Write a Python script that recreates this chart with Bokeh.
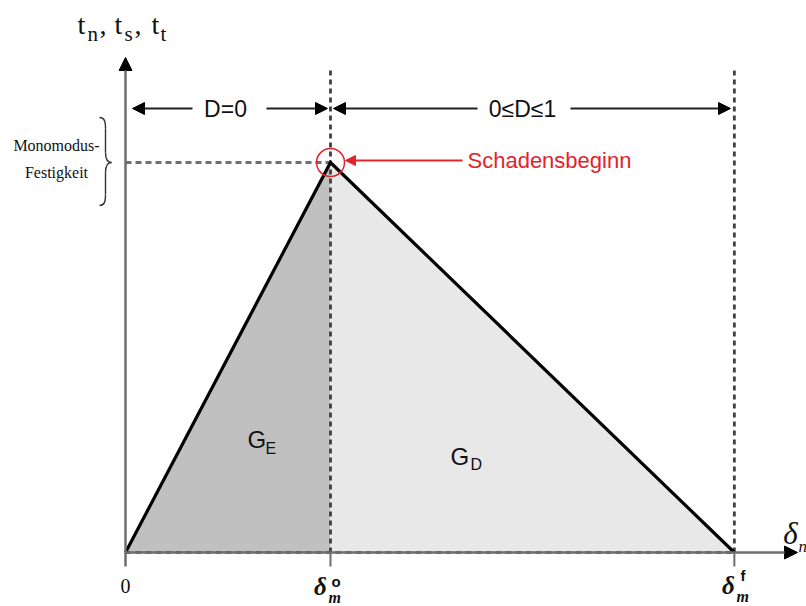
from bokeh.plotting import figure
from bokeh.models import Range1d, Arrow, NormalHead, ColumnDataSource
from bokeh.core.properties import value
from bokeh.embed import file_html
from bokeh.resources import INLINE

# Bilinear traction-separation law (mixed mode)
separation = [0.0, 1.0, 2.97]   # 0, delta_m^o (damage onset), delta_m^f (failure)
traction = [0.0, 1.0, 0.0]      # traction normalised by the mode strength

# Layout helpers: screen pixel -> data coordinate (origin at px 125/552)
OX, OY, SX, SY = 125.0, 552.0, 205.0, 390.0


def X(px):
    return (px - OX) / SX


def Y(py):
    return (OY - py) / SY


W, H = 806, 606
p = figure(width=W, height=H, output_backend="svg", toolbar_location=None,
           x_range=Range1d(X(0), X(W)), y_range=Range1d(Y(H), Y(0)),
           min_border=0, outline_line_color=None, background_fill_color="white")
p.axis.visible = False
p.grid.visible = False

s0, s1, s2 = separation
t0, t1, t2 = traction

# energy areas
p.patch([s0, s1, s1], [t0, t1, 0.0], fill_color="#c0c0c0", line_color=None)
p.patch([s1, s1, s2], [0.0, t1, t2], fill_color="#e8e8e8", line_color=None)

# guide lines
p.line([s0, s1], [t1, t1], line_color="#707070", line_width=2.8, line_dash="6 4")
p.line([s1, s1], [0.0, Y(70)], line_color="#404040", line_width=2.8, line_dash="5 4")
p.line([s2, s2], [0.0, Y(68)], line_color="#404040", line_width=2.8, line_dash="5 4")

# axes with arrow heads
gray = "#6e6e6e"
p.add_layout(Arrow(end=NormalHead(size=13, fill_color="black", line_color="black"),
                   x_start=0, y_start=Y(566), x_end=0, y_end=Y(57),
                   line_color=gray, line_width=2.5))
p.add_layout(Arrow(end=NormalHead(size=13, fill_color="black", line_color="black"),
                   x_start=0, y_start=0, x_end=X(797), y_end=0,
                   line_color=gray, line_width=2.5))
p.segment(x0=[s1, s2], y0=[0.0, 0.0], x1=[s1, s2], y1=[Y(566), Y(566)],
          line_color=gray, line_width=2)

# dashed baseline over the axis
p.line([s0, s2], [0.0, 0.0], line_color="#333333", line_width=2.4, line_dash="6 4")

# traction-separation curve
p.line(separation, traction, line_color="black", line_width=3.2, line_join="miter")

# damage onset marker
red = "#e0242c"
p.scatter([s1], [t1], size=28, marker="circle", fill_color=None,
          line_color=red, line_width=1.5)
p.add_layout(Arrow(end=NormalHead(size=10, fill_color=red, line_color=red),
                   x_start=X(462), y_start=Y(160), x_end=X(345), y_end=Y(160),
                   line_color=red, line_width=1.8))
p.text(x=[X(467)], y=[Y(160)], text=["Schadensbeginn"], text_color=red,
       text_font=value("Liberation Sans"), text_font_size=value("22px"),
       text_align="left", text_baseline="middle")

# damage regions
ay = Y(108)
head = dict(size=12, fill_color="black", line_color="black")
for xs, xe in [(192, 132), (266, 327), (477, 333), (570, 730)]:
    p.add_layout(Arrow(end=NormalHead(**head), x_start=X(xs), y_start=ay,
                       x_end=X(xe), y_end=ay, line_color="#222222", line_width=2))
p.text(x=[X(225), X(522)], y=[ay, ay], text=["D=0", "0\u2264D\u22641"],
       text_color="#111111", text_font=value("Liberation Sans"),
       text_font_size=value("23px"), text_align="center", text_baseline="middle")

# fracture energies
gsrc = ColumnDataSource(dict(
    x=[X(247), X(265), X(450), X(470)],
    y=[Y(439), Y(448), Y(456), Y(464)],
    text=["G", "E", "G", "D"],
    size=["24px", "16px", "24px", "16px"]))
p.text(x="x", y="y", text="text", text_font_size="size", source=gsrc,
       text_color="#111111", text_font=value("Liberation Sans"),
       text_align="left", text_baseline="middle")

# axis title t_n, t_s, t_t
tsrc = ColumnDataSource(dict(
    x=[X(77), X(87), X(99), X(114), X(124), X(134), X(151), X(160)],
    y=[Y(24), Y(33), Y(24), Y(24), Y(33), Y(24), Y(24), Y(33)],
    text=["t", "n", ",", "t", "s", ",", "t", "t"],
    size=["28px", "21px", "28px", "28px", "21px", "28px", "28px", "21px"]))
p.text(x="x", y="y", text="text", text_font_size="size", source=tsrc,
       text_color="#111111", text_font=value("Liberation Serif"),
       text_align="left", text_baseline="middle")

# strength brace and label
bc = "#333333"
p.bezier(x0=[X(99), X(105), X(111), X(105)],
         y0=[Y(117), Y(152), Y(162), Y(194)],
         x1=[X(105), X(111), X(105), X(99)],
         y1=[Y(128), Y(162), Y(172), Y(205)],
         cx0=[X(104), X(105), X(107), X(105)],
         cy0=[Y(117), Y(158), Y(162), Y(201)],
         cx1=[X(105), X(107), X(105), X(104)],
         cy1=[Y(121), Y(162), Y(166), Y(205)],
         line_color=bc, line_width=1.4)
p.segment(x0=[X(105), X(105)], y0=[Y(128), Y(172)], x1=[X(105), X(105)],
          y1=[Y(152), Y(194)], line_color=bc, line_width=1.4)
p.text(x=[X(56), X(56)], y=[Y(145), Y(172)], text=["Monomodus-", "Festigkeit"],
       text_color="#111111", text_font=value("Liberation Serif"),
       text_font_size=value("16px"), text_align="center", text_baseline="middle")

# separation tick labels
p.text(x=[X(125)], y=[Y(585)], text=["0"], text_color="#111111",
       text_font=value("Liberation Serif"), text_font_size=value("20px"),
       text_align="center", text_baseline="middle")
lsrc = ColumnDataSource(dict(
    x=[X(320), X(328), X(728), X(736)],
    y=[Y(586), Y(597), Y(585), Y(596)],
    text=["\u03b4", "m", "\u03b4", "m"],
    size=["25px", "16px", "25px", "16px"],
    align=["center", "left", "center", "left"]))
p.text(x="x", y="y", text="text", text_font_size="size", text_align="align",
       source=lsrc, text_color="#111111", text_font=value("Liberation Serif"),
       text_font_style="bold italic", text_baseline="middle")
p.text(x=[X(331), X(740)], y=[Y(581), Y(575)], text=["o", "f"],
       text_color="#111111", text_font=value("Liberation Sans"),
       text_font_size=value("15px"), text_font_style="bold",
       text_align="left", text_baseline="middle")

# separation axis title delta_n
nsrc = ColumnDataSource(dict(
    x=[X(790), X(798)], y=[Y(533), Y(546)], text=["\u03b4", "n"],
    size=["31px", "17px"], align=["center", "left"]))
p.text(x="x", y="y", text="text", text_font_size="size", text_align="align",
       source=nsrc, text_color="#111111", text_font=value("Liberation Serif"),
       text_font_style="italic", text_baseline="middle")

open("out.html", "w").write(file_html(p, INLINE))
